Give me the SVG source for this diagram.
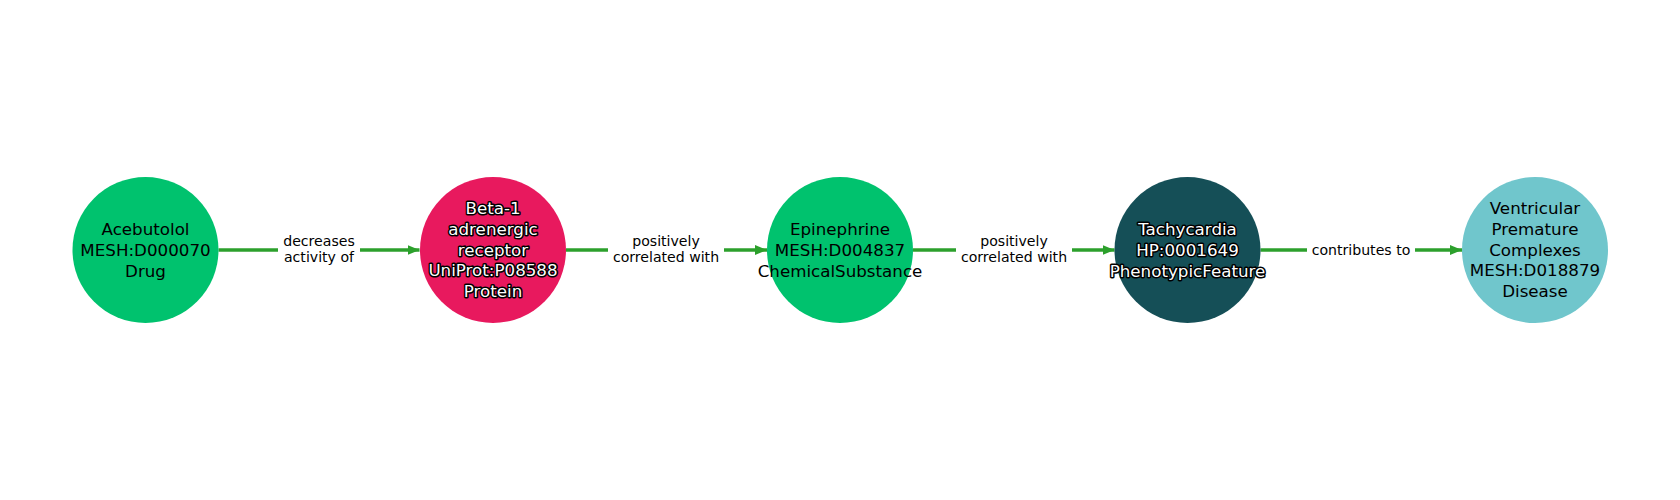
<svg xmlns="http://www.w3.org/2000/svg" width="1680" height="500" viewBox="0 0 1680 500">
<style>
.node text{font-family:"DejaVu Sans",sans-serif;font-size:16.7px;text-anchor:middle}
.dark{fill:#ffffff;stroke:#000000;stroke-width:3px;paint-order:stroke;stroke-linejoin:round}
.light{fill:#000000}
.edge line{stroke:#2ca02c;stroke-width:3.5}
.edge text{font-family:"DejaVu Sans",sans-serif;font-size:14.1px;text-anchor:middle;fill:#000000}
.lbl{fill:#ffffff}
</style>
<defs>
<marker id="arr" markerUnits="userSpaceOnUse" markerWidth="14" markerHeight="14" refX="12" refY="7" orient="auto">
<path d="M0,2 L12,7 L0,12 Z" fill="#2ca02c"/>
</marker>
</defs>
<rect width="1680" height="500" fill="#ffffff"/>
<g id="connectors" class="edge">
<line x1="218.5" y1="250" x2="419.5" y2="250" marker-end="url(#arr)"/>
<line x1="566" y1="250" x2="767" y2="250" marker-end="url(#arr)"/>
<line x1="913" y1="250" x2="1114.5" y2="250" marker-end="url(#arr)"/>
<line x1="1260.5" y1="250" x2="1462" y2="250" marker-end="url(#arr)"/>
<rect class="lbl" x="278" y="233" width="82" height="34"/>
<text x="319" y="245.5">decreases</text>
<text x="319" y="261.5">activity of</text>
<rect class="lbl" x="608" y="233" width="116" height="34"/>
<text x="666" y="245.5">positively</text>
<text x="666" y="261.5">correlated with</text>
<rect class="lbl" x="956" y="233" width="116" height="34"/>
<text x="1014" y="245.5">positively</text>
<text x="1014" y="261.5">correlated with</text>
<rect class="lbl" x="1307" y="240" width="108" height="20"/>
<text x="1361" y="255">contributes to</text>
</g>
<g id="node-acebutolol" class="node">
<circle cx="145.5" cy="250" r="73" fill="#00c26e"/>
<text class="light" x="145.5" y="235">Acebutolol</text>
<text class="light" x="145.5" y="255.8">MESH:D000070</text>
<text class="light" x="145.5" y="276.5">Drug</text>
</g>
<g id="node-beta1" class="node">
<circle cx="493" cy="250" r="73" fill="#e8195e"/>
<text class="dark" x="493" y="214">Beta-1</text>
<text class="dark" x="493" y="234.8">adrenergic</text>
<text class="dark" x="493" y="255.5">receptor</text>
<text class="dark" x="493" y="276.2">UniProt:P08588</text>
<text class="dark" x="493" y="297">Protein</text>
</g>
<g id="node-epinephrine" class="node">
<circle cx="840" cy="250" r="73" fill="#00c26e"/>
<text class="light" x="840" y="235">Epinephrine</text>
<text class="light" x="840" y="255.8">MESH:D004837</text>
<text class="light" x="840" y="276.5">ChemicalSubstance</text>
</g>
<g id="node-tachycardia" class="node">
<circle cx="1187.5" cy="250" r="73" fill="#154f57"/>
<text class="dark" x="1187.5" y="235">Tachycardia</text>
<text class="dark" x="1187.5" y="255.8">HP:0001649</text>
<text class="dark" x="1187.5" y="276.5">PhenotypicFeature</text>
</g>
<g id="node-vpc" class="node">
<circle cx="1535" cy="250" r="73" fill="#70c6cc"/>
<text class="light" x="1535" y="214">Ventricular</text>
<text class="light" x="1535" y="234.8">Premature</text>
<text class="light" x="1535" y="255.5">Complexes</text>
<text class="light" x="1535" y="276.2">MESH:D018879</text>
<text class="light" x="1535" y="297">Disease</text>
</g>
</svg>
